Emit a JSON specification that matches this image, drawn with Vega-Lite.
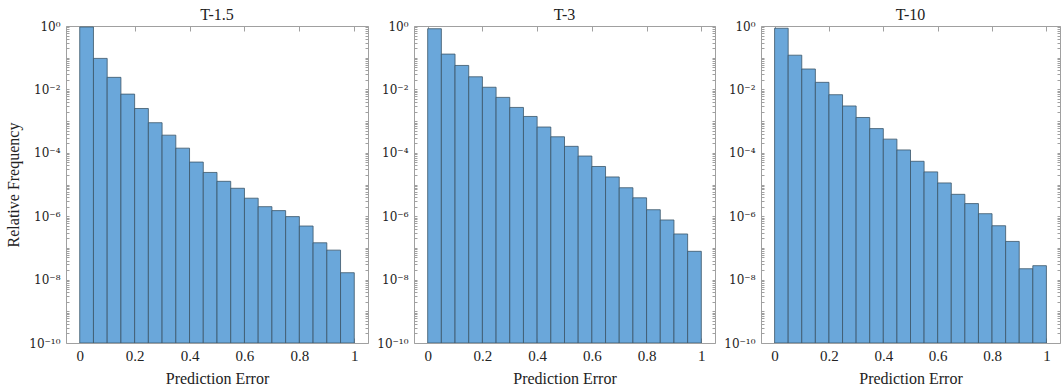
{
  "$schema": "https://vega.github.io/schema/vega-lite/v6.json",
  "background": "white",
  "padding": {"left": 5, "top": 6, "right": 0, "bottom": 0},
  "spacing": 7,
  "config": {
    "font": "Liberation Serif",
    "view": {"stroke": "#a0a0a0", "strokeWidth": 1},
    "axis": {
      "grid": false,
      "domain": false,
      "labelFont": "Liberation Serif",
      "labelFontSize": 15,
      "labelColor": "#222222",
      "titleFont": "Liberation Serif",
      "titleFontSize": 16,
      "titleFontWeight": "normal",
      "titleColor": "#222222",
      "tickColor": "#a0a0a0",
      "tickSize": -5,
      "labelOverlap": false
    },
    "title": {"font": "Liberation Serif", "fontSize": 16, "fontWeight": "normal", "color": "#222222", "offset": -3}
  },
  "data": {"values": [
    {"p": "T-1.5", "x0": 0.00, "x1": 0.05, "v": 0.93},
    {"p": "T-1.5", "x0": 0.05, "x1": 0.10, "v": 0.095},
    {"p": "T-1.5", "x0": 0.10, "x1": 0.15, "v": 0.024},
    {"p": "T-1.5", "x0": 0.15, "x1": 0.20, "v": 0.0071},
    {"p": "T-1.5", "x0": 0.20, "x1": 0.25, "v": 0.0025},
    {"p": "T-1.5", "x0": 0.25, "x1": 0.30, "v": 0.00089},
    {"p": "T-1.5", "x0": 0.30, "x1": 0.35, "v": 0.00036},
    {"p": "T-1.5", "x0": 0.35, "x1": 0.40, "v": 0.00014},
    {"p": "T-1.5", "x0": 0.40, "x1": 0.45, "v": 5.1e-5},
    {"p": "T-1.5", "x0": 0.45, "x1": 0.50, "v": 2.4e-5},
    {"p": "T-1.5", "x0": 0.50, "x1": 0.55, "v": 1.26e-5},
    {"p": "T-1.5", "x0": 0.55, "x1": 0.60, "v": 7.6e-6},
    {"p": "T-1.5", "x0": 0.60, "x1": 0.65, "v": 3.7e-6},
    {"p": "T-1.5", "x0": 0.65, "x1": 0.70, "v": 2.0e-6},
    {"p": "T-1.5", "x0": 0.70, "x1": 0.75, "v": 1.5e-6},
    {"p": "T-1.5", "x0": 0.75, "x1": 0.80, "v": 9.7e-7},
    {"p": "T-1.5", "x0": 0.80, "x1": 0.85, "v": 4.9e-7},
    {"p": "T-1.5", "x0": 0.85, "x1": 0.90, "v": 1.45e-7},
    {"p": "T-1.5", "x0": 0.90, "x1": 0.95, "v": 8.5e-8},
    {"p": "T-1.5", "x0": 0.95, "x1": 1.00, "v": 1.65e-8},
    {"p": "T-3", "x0": 0.00, "x1": 0.05, "v": 0.82},
    {"p": "T-3", "x0": 0.05, "x1": 0.10, "v": 0.13},
    {"p": "T-3", "x0": 0.10, "x1": 0.15, "v": 0.057},
    {"p": "T-3", "x0": 0.15, "x1": 0.20, "v": 0.025},
    {"p": "T-3", "x0": 0.20, "x1": 0.25, "v": 0.0117},
    {"p": "T-3", "x0": 0.25, "x1": 0.30, "v": 0.0056},
    {"p": "T-3", "x0": 0.30, "x1": 0.35, "v": 0.0027},
    {"p": "T-3", "x0": 0.35, "x1": 0.40, "v": 0.0014},
    {"p": "T-3", "x0": 0.40, "x1": 0.45, "v": 0.00065},
    {"p": "T-3", "x0": 0.45, "x1": 0.50, "v": 0.00032},
    {"p": "T-3", "x0": 0.50, "x1": 0.55, "v": 0.00016},
    {"p": "T-3", "x0": 0.55, "x1": 0.60, "v": 7.9e-5},
    {"p": "T-3", "x0": 0.60, "x1": 0.65, "v": 3.7e-5},
    {"p": "T-3", "x0": 0.65, "x1": 0.70, "v": 1.73e-5},
    {"p": "T-3", "x0": 0.70, "x1": 0.75, "v": 7.9e-6},
    {"p": "T-3", "x0": 0.75, "x1": 0.80, "v": 3.8e-6},
    {"p": "T-3", "x0": 0.80, "x1": 0.85, "v": 1.6e-6},
    {"p": "T-3", "x0": 0.85, "x1": 0.90, "v": 7.6e-7},
    {"p": "T-3", "x0": 0.90, "x1": 0.95, "v": 2.75e-7},
    {"p": "T-3", "x0": 0.95, "x1": 1.00, "v": 7.8e-8},
    {"p": "T-10", "x0": 0.00, "x1": 0.05, "v": 0.85},
    {"p": "T-10", "x0": 0.05, "x1": 0.10, "v": 0.12},
    {"p": "T-10", "x0": 0.10, "x1": 0.15, "v": 0.044},
    {"p": "T-10", "x0": 0.15, "x1": 0.20, "v": 0.0167},
    {"p": "T-10", "x0": 0.20, "x1": 0.25, "v": 0.0068},
    {"p": "T-10", "x0": 0.25, "x1": 0.30, "v": 0.003},
    {"p": "T-10", "x0": 0.30, "x1": 0.35, "v": 0.0013},
    {"p": "T-10", "x0": 0.35, "x1": 0.40, "v": 0.00058},
    {"p": "T-10", "x0": 0.40, "x1": 0.45, "v": 0.00027},
    {"p": "T-10", "x0": 0.45, "x1": 0.50, "v": 0.000123},
    {"p": "T-10", "x0": 0.50, "x1": 0.55, "v": 5.4e-5},
    {"p": "T-10", "x0": 0.55, "x1": 0.60, "v": 2.5e-5},
    {"p": "T-10", "x0": 0.60, "x1": 0.65, "v": 1.12e-5},
    {"p": "T-10", "x0": 0.65, "x1": 0.70, "v": 4.9e-6},
    {"p": "T-10", "x0": 0.70, "x1": 0.75, "v": 2.5e-6},
    {"p": "T-10", "x0": 0.75, "x1": 0.80, "v": 1.2e-6},
    {"p": "T-10", "x0": 0.80, "x1": 0.85, "v": 5.0e-7},
    {"p": "T-10", "x0": 0.85, "x1": 0.90, "v": 1.6e-7},
    {"p": "T-10", "x0": 0.90, "x1": 0.95, "v": 2.2e-8},
    {"p": "T-10", "x0": 0.95, "x1": 1.00, "v": 2.75e-8}
  ]},
  "hconcat": [
    {
      "title": "T-1.5",
      "width": 302, "height": 317,
      "transform": [{"filter": "datum.p == 'T-1.5'"}],
      "resolve": {"axis": {"x": "independent", "y": "independent"}},
      "layer": [
        {
          "mark": {"type": "bar", "fill": "#6aa7da", "stroke": "#3b5568", "strokeWidth": 0.8, "clip": true},
          "encoding": {
            "x": {"field": "x0", "type": "quantitative", "scale": {"domain": [-0.05, 1.05], "nice": false, "zero": false},
                  "axis": {"title": "Prediction Error", "values": [0, 0.2, 0.4, 0.6, 0.8, 1], "format": "~g", "labelPadding": 10, "titlePadding": 7}},
            "x2": {"field": "x1"},
            "y": {"field": "v", "type": "quantitative", "scale": {"type": "log", "domain": [1e-10, 1], "nice": false},
                  "axis": {"title": "Relative Frequency", "titlePadding": 7, "labelPadding": 9, "labelFont": "DejaVu Serif", "labelFontSize": 12, "tickSize": -3,
                           "values": [1e-10,2e-10,3e-10,4e-10,5e-10,6e-10,7e-10,8e-10,9e-10,1e-9,2e-9,3e-9,4e-9,5e-9,6e-9,7e-9,8e-9,9e-9,1e-8,2e-8,3e-8,4e-8,5e-8,6e-8,7e-8,8e-8,9e-8,1e-7,2e-7,3e-7,4e-7,5e-7,6e-7,7e-7,8e-7,9e-7,1e-6,2e-6,3e-6,4e-6,5e-6,6e-6,7e-6,8e-6,9e-6,1e-5,2e-5,3e-5,4e-5,5e-5,6e-5,7e-5,8e-5,9e-5,1e-4,2e-4,3e-4,4e-4,5e-4,6e-4,7e-4,8e-4,9e-4,1e-3,2e-3,3e-3,4e-3,5e-3,6e-3,7e-3,8e-3,9e-3,1e-2,2e-2,3e-2,4e-2,5e-2,6e-2,7e-2,8e-2,9e-2,0.1,0.2,0.3,0.4,0.5,0.6,0.7,0.8,0.9,1],
                           "labelExpr": "abs(log(datum.value)/LN10 - round(log(datum.value)/LN10)) > 0.001 ? '' : round(log(datum.value)/LN10) == 0 ? '10⁰' : round(log(datum.value)/LN10) == -2 ? '10⁻²' : round(log(datum.value)/LN10) == -4 ? '10⁻⁴' : round(log(datum.value)/LN10) == -6 ? '10⁻⁶' : round(log(datum.value)/LN10) == -8 ? '10⁻⁸' : round(log(datum.value)/LN10) == -10 ? '10⁻¹⁰' : ''"}},
            "y2": {"datum": 1e-10}
          }
        },
        {
          "mark": {"type": "bar", "opacity": 0},
          "encoding": {
            "x": {"field": "x0", "type": "quantitative", "axis": {"orient": "top", "labels": false, "title": null, "values": [0, 0.2, 0.4, 0.6, 0.8, 1]}},
            "x2": {"field": "x1"},
            "y": {"field": "v", "type": "quantitative", "axis": {"orient": "right", "labels": false, "title": null, "tickSize": -3,
                  "values": [1e-10,2e-10,3e-10,4e-10,5e-10,6e-10,7e-10,8e-10,9e-10,1e-9,2e-9,3e-9,4e-9,5e-9,6e-9,7e-9,8e-9,9e-9,1e-8,2e-8,3e-8,4e-8,5e-8,6e-8,7e-8,8e-8,9e-8,1e-7,2e-7,3e-7,4e-7,5e-7,6e-7,7e-7,8e-7,9e-7,1e-6,2e-6,3e-6,4e-6,5e-6,6e-6,7e-6,8e-6,9e-6,1e-5,2e-5,3e-5,4e-5,5e-5,6e-5,7e-5,8e-5,9e-5,1e-4,2e-4,3e-4,4e-4,5e-4,6e-4,7e-4,8e-4,9e-4,1e-3,2e-3,3e-3,4e-3,5e-3,6e-3,7e-3,8e-3,9e-3,1e-2,2e-2,3e-2,4e-2,5e-2,6e-2,7e-2,8e-2,9e-2,0.1,0.2,0.3,0.4,0.5,0.6,0.7,0.8,0.9,1]}},
            "y2": {"datum": 1e-10}
          }
        }
      ]
    },
    {
      "title": "T-3",
      "width": 301, "height": 317,
      "transform": [{"filter": "datum.p == 'T-3'"}],
      "resolve": {"axis": {"x": "independent", "y": "independent"}},
      "layer": [
        {
          "mark": {"type": "bar", "fill": "#6aa7da", "stroke": "#3b5568", "strokeWidth": 0.8, "clip": true},
          "encoding": {
            "x": {"field": "x0", "type": "quantitative", "scale": {"domain": [-0.05, 1.05], "nice": false, "zero": false},
                  "axis": {"title": "Prediction Error", "values": [0, 0.2, 0.4, 0.6, 0.8, 1], "format": "~g", "labelPadding": 10, "titlePadding": 7}},
            "x2": {"field": "x1"},
            "y": {"field": "v", "type": "quantitative", "scale": {"type": "log", "domain": [1e-10, 1], "nice": false},
                  "axis": {"title": null, "labelPadding": 9, "labelFont": "DejaVu Serif", "labelFontSize": 12, "tickSize": -3,
                           "values": [1e-10,2e-10,3e-10,4e-10,5e-10,6e-10,7e-10,8e-10,9e-10,1e-9,2e-9,3e-9,4e-9,5e-9,6e-9,7e-9,8e-9,9e-9,1e-8,2e-8,3e-8,4e-8,5e-8,6e-8,7e-8,8e-8,9e-8,1e-7,2e-7,3e-7,4e-7,5e-7,6e-7,7e-7,8e-7,9e-7,1e-6,2e-6,3e-6,4e-6,5e-6,6e-6,7e-6,8e-6,9e-6,1e-5,2e-5,3e-5,4e-5,5e-5,6e-5,7e-5,8e-5,9e-5,1e-4,2e-4,3e-4,4e-4,5e-4,6e-4,7e-4,8e-4,9e-4,1e-3,2e-3,3e-3,4e-3,5e-3,6e-3,7e-3,8e-3,9e-3,1e-2,2e-2,3e-2,4e-2,5e-2,6e-2,7e-2,8e-2,9e-2,0.1,0.2,0.3,0.4,0.5,0.6,0.7,0.8,0.9,1],
                           "labelExpr": "abs(log(datum.value)/LN10 - round(log(datum.value)/LN10)) > 0.001 ? '' : round(log(datum.value)/LN10) == 0 ? '10⁰' : round(log(datum.value)/LN10) == -2 ? '10⁻²' : round(log(datum.value)/LN10) == -4 ? '10⁻⁴' : round(log(datum.value)/LN10) == -6 ? '10⁻⁶' : round(log(datum.value)/LN10) == -8 ? '10⁻⁸' : round(log(datum.value)/LN10) == -10 ? '10⁻¹⁰' : ''"}},
            "y2": {"datum": 1e-10}
          }
        },
        {
          "mark": {"type": "bar", "opacity": 0},
          "encoding": {
            "x": {"field": "x0", "type": "quantitative", "axis": {"orient": "top", "labels": false, "title": null, "values": [0, 0.2, 0.4, 0.6, 0.8, 1]}},
            "x2": {"field": "x1"},
            "y": {"field": "v", "type": "quantitative", "axis": {"orient": "right", "labels": false, "title": null, "tickSize": -3,
                  "values": [1e-10,2e-10,3e-10,4e-10,5e-10,6e-10,7e-10,8e-10,9e-10,1e-9,2e-9,3e-9,4e-9,5e-9,6e-9,7e-9,8e-9,9e-9,1e-8,2e-8,3e-8,4e-8,5e-8,6e-8,7e-8,8e-8,9e-8,1e-7,2e-7,3e-7,4e-7,5e-7,6e-7,7e-7,8e-7,9e-7,1e-6,2e-6,3e-6,4e-6,5e-6,6e-6,7e-6,8e-6,9e-6,1e-5,2e-5,3e-5,4e-5,5e-5,6e-5,7e-5,8e-5,9e-5,1e-4,2e-4,3e-4,4e-4,5e-4,6e-4,7e-4,8e-4,9e-4,1e-3,2e-3,3e-3,4e-3,5e-3,6e-3,7e-3,8e-3,9e-3,1e-2,2e-2,3e-2,4e-2,5e-2,6e-2,7e-2,8e-2,9e-2,0.1,0.2,0.3,0.4,0.5,0.6,0.7,0.8,0.9,1]}},
            "y2": {"datum": 1e-10}
          }
        }
      ]
    },
    {
      "title": "T-10",
      "width": 299, "height": 317,
      "transform": [{"filter": "datum.p == 'T-10'"}],
      "resolve": {"axis": {"x": "independent", "y": "independent"}},
      "layer": [
        {
          "mark": {"type": "bar", "fill": "#6aa7da", "stroke": "#3b5568", "strokeWidth": 0.8, "clip": true},
          "encoding": {
            "x": {"field": "x0", "type": "quantitative", "scale": {"domain": [-0.05, 1.05], "nice": false, "zero": false},
                  "axis": {"title": "Prediction Error", "values": [0, 0.2, 0.4, 0.6, 0.8, 1], "format": "~g", "labelPadding": 10, "titlePadding": 7}},
            "x2": {"field": "x1"},
            "y": {"field": "v", "type": "quantitative", "scale": {"type": "log", "domain": [1e-10, 1], "nice": false},
                  "axis": {"title": null, "labelPadding": 9, "labelFont": "DejaVu Serif", "labelFontSize": 12, "tickSize": -3,
                           "values": [1e-10,2e-10,3e-10,4e-10,5e-10,6e-10,7e-10,8e-10,9e-10,1e-9,2e-9,3e-9,4e-9,5e-9,6e-9,7e-9,8e-9,9e-9,1e-8,2e-8,3e-8,4e-8,5e-8,6e-8,7e-8,8e-8,9e-8,1e-7,2e-7,3e-7,4e-7,5e-7,6e-7,7e-7,8e-7,9e-7,1e-6,2e-6,3e-6,4e-6,5e-6,6e-6,7e-6,8e-6,9e-6,1e-5,2e-5,3e-5,4e-5,5e-5,6e-5,7e-5,8e-5,9e-5,1e-4,2e-4,3e-4,4e-4,5e-4,6e-4,7e-4,8e-4,9e-4,1e-3,2e-3,3e-3,4e-3,5e-3,6e-3,7e-3,8e-3,9e-3,1e-2,2e-2,3e-2,4e-2,5e-2,6e-2,7e-2,8e-2,9e-2,0.1,0.2,0.3,0.4,0.5,0.6,0.7,0.8,0.9,1],
                           "labelExpr": "abs(log(datum.value)/LN10 - round(log(datum.value)/LN10)) > 0.001 ? '' : round(log(datum.value)/LN10) == 0 ? '10⁰' : round(log(datum.value)/LN10) == -2 ? '10⁻²' : round(log(datum.value)/LN10) == -4 ? '10⁻⁴' : round(log(datum.value)/LN10) == -6 ? '10⁻⁶' : round(log(datum.value)/LN10) == -8 ? '10⁻⁸' : round(log(datum.value)/LN10) == -10 ? '10⁻¹⁰' : ''"}},
            "y2": {"datum": 1e-10}
          }
        },
        {
          "mark": {"type": "bar", "opacity": 0},
          "encoding": {
            "x": {"field": "x0", "type": "quantitative", "axis": {"orient": "top", "labels": false, "title": null, "values": [0, 0.2, 0.4, 0.6, 0.8, 1]}},
            "x2": {"field": "x1"},
            "y": {"field": "v", "type": "quantitative", "axis": {"orient": "right", "labels": false, "title": null, "tickSize": -3,
                  "values": [1e-10,2e-10,3e-10,4e-10,5e-10,6e-10,7e-10,8e-10,9e-10,1e-9,2e-9,3e-9,4e-9,5e-9,6e-9,7e-9,8e-9,9e-9,1e-8,2e-8,3e-8,4e-8,5e-8,6e-8,7e-8,8e-8,9e-8,1e-7,2e-7,3e-7,4e-7,5e-7,6e-7,7e-7,8e-7,9e-7,1e-6,2e-6,3e-6,4e-6,5e-6,6e-6,7e-6,8e-6,9e-6,1e-5,2e-5,3e-5,4e-5,5e-5,6e-5,7e-5,8e-5,9e-5,1e-4,2e-4,3e-4,4e-4,5e-4,6e-4,7e-4,8e-4,9e-4,1e-3,2e-3,3e-3,4e-3,5e-3,6e-3,7e-3,8e-3,9e-3,1e-2,2e-2,3e-2,4e-2,5e-2,6e-2,7e-2,8e-2,9e-2,0.1,0.2,0.3,0.4,0.5,0.6,0.7,0.8,0.9,1]}},
            "y2": {"datum": 1e-10}
          }
        }
      ]
    }
  ]
}
